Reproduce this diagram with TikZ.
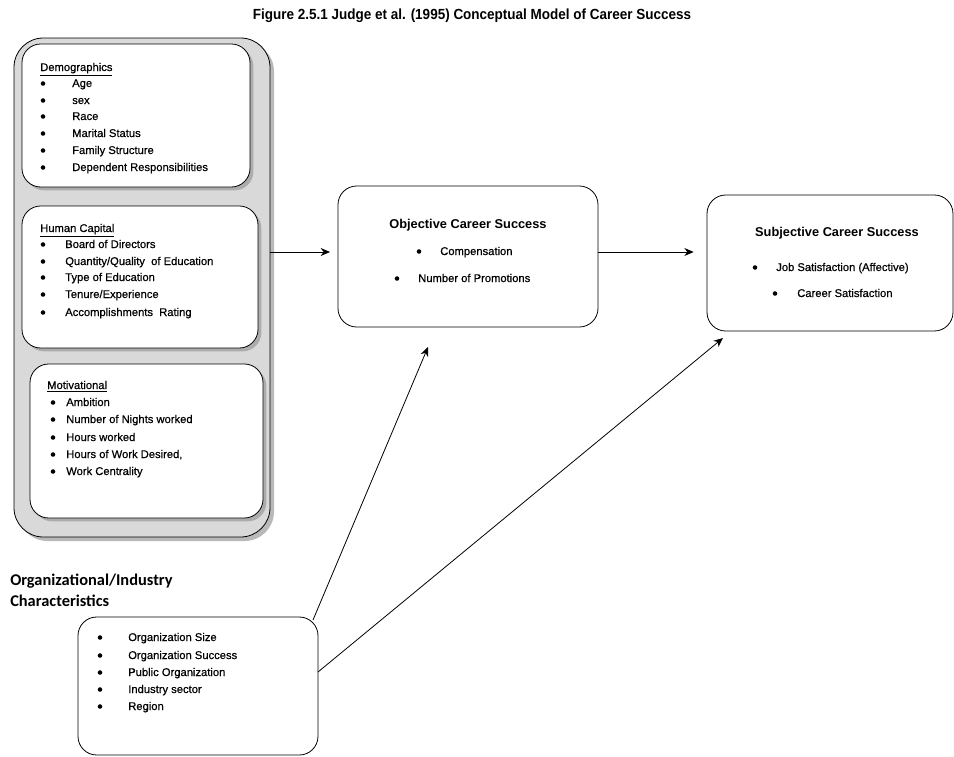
\documentclass[tikz,border=0pt]{standalone}
\usepackage{fontspec}
\setmainfont{Liberation Sans}
\newfontfamily\titlefont{Liberation Sans}[FakeStretch=0.92]
\newfontfamily\itemfont{Liberation Sans}[FakeBold=0.5]
\newfontfamily\calfont{Carlito}
\usetikzlibrary{arrows.meta,shadows}
\begin{document}
\begin{tikzpicture}[x=0.75pt,y=-0.75pt,
  txt/.style={anchor=base west,inner sep=0pt,font=\itemfont\fontsize{8.4}{10}\selectfont},
  bul/.style={circle,fill=black,inner sep=0pt,minimum size=3.4pt},
  hd/.style={anchor=base,inner sep=0pt,font=\bfseries\fontsize{9.6}{11}\selectfont},
  box/.style={draw,fill=white,line width=0.6pt,rounded corners=14pt,anchor=north west,inner sep=0pt,outer sep=0pt},
  sbox/.style={box,drop shadow={shadow xshift=2.5pt,shadow yshift=-2.5pt,fill=gray!65,opacity=1}},
  arr/.style={-{Stealth[length=7pt,width=6pt]},line width=0.6pt}]
\useasboundingbox (0,0) rectangle (954,757);
% title
\node[anchor=base,inner sep=0pt,font=\titlefont\bfseries\fontsize{11}{13}\selectfont] (title) at (472,19) {Figure 2.5.1 Judge et al. (1995) Conceptual Model of Career Success};
% outer panel
\node[box,fill=gray!30,rounded corners=22pt,minimum width=192pt,minimum height=374.25pt,
  drop shadow={shadow xshift=3pt,shadow yshift=-3pt,fill=gray!55,opacity=1}] (outer) at (14,38) {};
% demographics
\node[sbox,minimum width=171pt,minimum height=107.25pt] (demo) at (22,44) {};
\node[txt] (demoh) at (40,71) {\underline{Demographics}};
\foreach \y/\t [count=\i] in {87/Age,104/sex,120/Race,137/Marital Status,154/Family Structure,171/Dependent Responsibilities}{
  \node[bul] (db\i) at (43,{\y-3.5}) {};
  \node[txt] (dt\i) at (72,\y) {\t};
}
% human capital
\node[sbox,minimum width=177pt,minimum height=106.5pt] (hc) at (22,206) {};
\node[txt] (hch) at (40,232) {\underline{Human Capital}};
\foreach \y/\t [count=\i] in {248/{Board of Directors},265/{Quantity/Quality\ \ of Education},281/{Type of Education},298/{Tenure/Experience},316/{Accomplishments\ \ Rating}}{
  \node[bul] (hb\i) at (43,{\y-3.5}) {};
  \node[txt] (ht\i) at (65,\y) {\t};
}
% motivational
\node[sbox,minimum width=174.75pt,minimum height=115.5pt] (mot) at (30,364) {};
\node[txt] (moth) at (47,389) {\underline{Motivational}};
\foreach \y/\t [count=\i] in {406/Ambition,423/Number of Nights worked,441/Hours worked,458/{Hours of Work Desired,},475/Work Centrality}{
  \node[bul] (mb\i) at (53,{\y-3.5}) {};
  \node[txt] (mt\i) at (66,\y) {\t};
}
% objective
\node[box,minimum width=195pt,minimum height=105.75pt] (obj) at (338,186) {};
\node[hd] (objh) at (468,228) {Objective Career Success};
\node[bul] (ob1) at (419,251.5) {};
\node[txt] (ot1) at (440,255) {Compensation};
\node[bul] (ob2) at (397,278.5) {};
\node[txt] (ot2) at (418,282) {Number of Promotions};
% subjective
\node[box,minimum width=184.5pt,minimum height=102pt] (subj) at (707,195) {};
\node[hd] (subjh) at (837,236) {Subjective Career Success};
\node[bul] (sb1) at (755,267.5) {};
\node[txt] (st1) at (776,271) {Job Satisfaction (Affective)};
\node[bul] (sb2) at (775,293.5) {};
\node[txt] (st2) at (797,297) {Career Satisfaction};
% organizational
\node[anchor=north west,inner sep=0pt,align=left,font=\calfont\bfseries\fontsize{12.3}{15.8}\selectfont] (orgl) at (10,574) {Organizational/Industry\\Characteristics};
\node[box,minimum width=180pt,minimum height=103.5pt] (org) at (78,617) {};
\foreach \y/\t [count=\i] in {641/Organization Size,659/Organization Success,676/Public Organization,693/Industry sector,710/Region}{
  \node[bul] (rb\i) at (100,{\y-3.5}) {};
  \node[txt] (rt\i) at (128,\y) {\t};
}
% connectors
\coordinate (objtip) at (428,347);
\coordinate (subjtip) at (723,338);
\draw[arr,shorten >=6pt] (outer.east |- 0,252) -- (obj.west |- 0,252);
\draw[arr,shorten >=10pt] (obj.east |- 0,252) -- (subj.west |- 0,252);
\draw[arr] ([shift={(-5,3)}]org.north east) -- (objtip);
\draw[arr] ([shift={(0,-14)}]org.east) -- (subjtip);
\end{tikzpicture}
\end{document}
